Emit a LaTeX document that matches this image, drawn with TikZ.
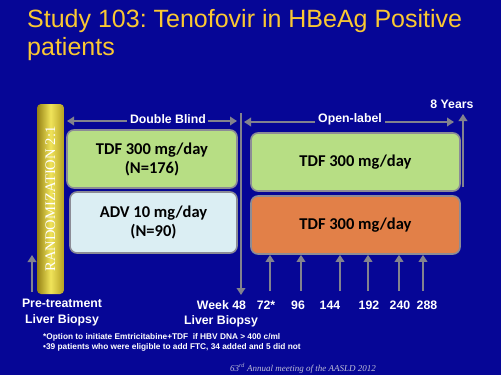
\documentclass[tikz,border=0pt]{standalone}
\usepackage{fontspec}
\setmainfont{Liberation Sans}
\newfontfamily\boxfont{Carlito}
\newfontfamily\seriffont{Liberation Serif}
\usetikzlibrary{positioning,arrows.meta}
\frenchspacing

\definecolor{slideblue}{RGB}{6,6,150}
\definecolor{titlegold}{RGB}{250,200,50}
\definecolor{arrowgray}{RGB}{130,130,142}
\definecolor{boxgray}{RGB}{140,140,150}
\definecolor{tdfgreen}{RGB}{183,222,132}
\definecolor{advblue}{RGB}{219,238,243}
\definecolor{olorange}{RGB}{226,128,72}
\definecolor{footgray}{RGB}{190,190,215}

\tikzset{
  garrow/.style={draw=arrowgray, line width=2.6pt, -{Triangle[width=8.5pt,length=7pt]}},
  lbl/.style={text=white, font=\bfseries\fontsize{12.3}{15.5}\selectfont, inner sep=0pt},
  dose/.style={draw=boxgray, line width=1.6pt, rounded corners=7pt, inner sep=0pt,
    font=\boxfont\bfseries\fontsize{16.5}{19}\selectfont, align=center},
  note/.style={text=white, font=\bfseries\fontsize{8.3}{9}\selectfont, inner sep=0pt, anchor=west},
}

\begin{document}
\begin{tikzpicture}[x=1pt,y=-1pt]
  \fill[slideblue] (0,0) rectangle (501,375);
  \useasboundingbox (0,0) rectangle (501,375);

  \node[anchor=base west, text=titlegold, font=\fontsize{25}{28}\selectfont, inner sep=0pt] (title1) at (27,27) {Study 103: Tenofovir in HBeAg Positive};
  \node[anchor=base west, text=titlegold, font=\fontsize{25}{28}\selectfont, inner sep=0pt] (title2) at (27,55) {patients};

  % randomization bar
  \node (rand) [minimum width=27pt, minimum height=190pt, rounded corners=4pt,
    left color={rgb,255:red,150;green,130;blue,20}, right color={rgb,255:red,180;green,160;blue,35},
    middle color={rgb,255:red,240;green,228;blue,90}] at (50.5,199) {};
  \node[rotate=90, text=white, font=\seriffont\fontsize{14.6}{16}\selectfont, inner sep=0pt] (randtxt) at (rand.center) {RANDOMIZATION 2:1};

  % treatment boxes
  \node[dose, fill=tdfgreen, minimum width=170pt, minimum height=58pt] (tdfdb) at (152,159) {TDF 300 mg/day\\(N=176)};
  \node[dose, fill=advblue, minimum width=167pt, minimum height=61pt] (advdb) at (153.5,222.5) {ADV 10 mg/day\\(N=90)};
  \node[dose, fill=tdfgreen, minimum width=209pt, minimum height=58pt] (tdfol) at (355.5,162) {TDF 300 mg/day};
  \node[dose, fill=olorange, minimum width=209pt, minimum height=58pt] (advol) at (355.5,225) {TDF 300 mg/day};

  % phases
  \coordinate (w48top) at (241,113);
  \coordinate (w48bot) at (241,295);
  \draw[garrow] (w48top) -- (w48bot);
  \node[lbl] (dbl) at (168,119) {Double Blind};
  \draw[garrow] (dbl.west) ++(-3,2) -- (67,121);
  \draw[garrow] (dbl.east) ++(2,2) -- (237,121);
  \node[lbl] (ol) at (350,119) {Open-label};
  \draw[garrow] (ol.west) ++(-3,3) -- (244,122);
  \draw[garrow] (ol.east) ++(3,3) -- (454,122);

  \node[lbl] (yrs) at (452,104) {8 Years};
  \coordinate (yr8) at (463,187);
  \draw[garrow] (yr8) -- (463,114);

  \coordinate (pre) at (32,292);
  \draw[garrow] (pre) -- (32,255);

  % visits
  \foreach \x in {270,301,340,368,399,423} {
    \coordinate (wk\x) at (\x,291);
    \draw[garrow] (wk\x) -- (wk\x |- advol.south);
  }

  \node[lbl, align=center] (pretx) at (62,312.5) {Pre-treatment\\Liver Biopsy};
  \node[lbl] (w48) at (221.5,305) {Week 48};
  \node[lbl] (w48bx) at (221,321) {Liver Biopsy};
  \node[lbl] (w72) at (266,305) {72*};
  \node[lbl] (w96) at (298,305) {96};
  \node[lbl] (w144) at (330,305) {144};
  \node[lbl] (w192) at (369,305) {192};
  \node[lbl] (w240) at (400,305) {240};
  \node[lbl] (w288) at (427,305) {288};

  \node[note] (fn1) at (43,337) {*Option to initiate Emtricitabine+TDF \ if HBV DNA > 400 c/ml};
  \node[note] (fn2) at (43,347) {•39 patients who were eligible to add FTC, 34 added and 5 did not};

  \node[text=footgray, font=\seriffont\itshape\fontsize{9}{10}\selectfont, inner sep=0pt] (src) at (303,368) {63\textsuperscript{rd} Annual meeting of the AASLD 2012};
\end{tikzpicture}
\end{document}
